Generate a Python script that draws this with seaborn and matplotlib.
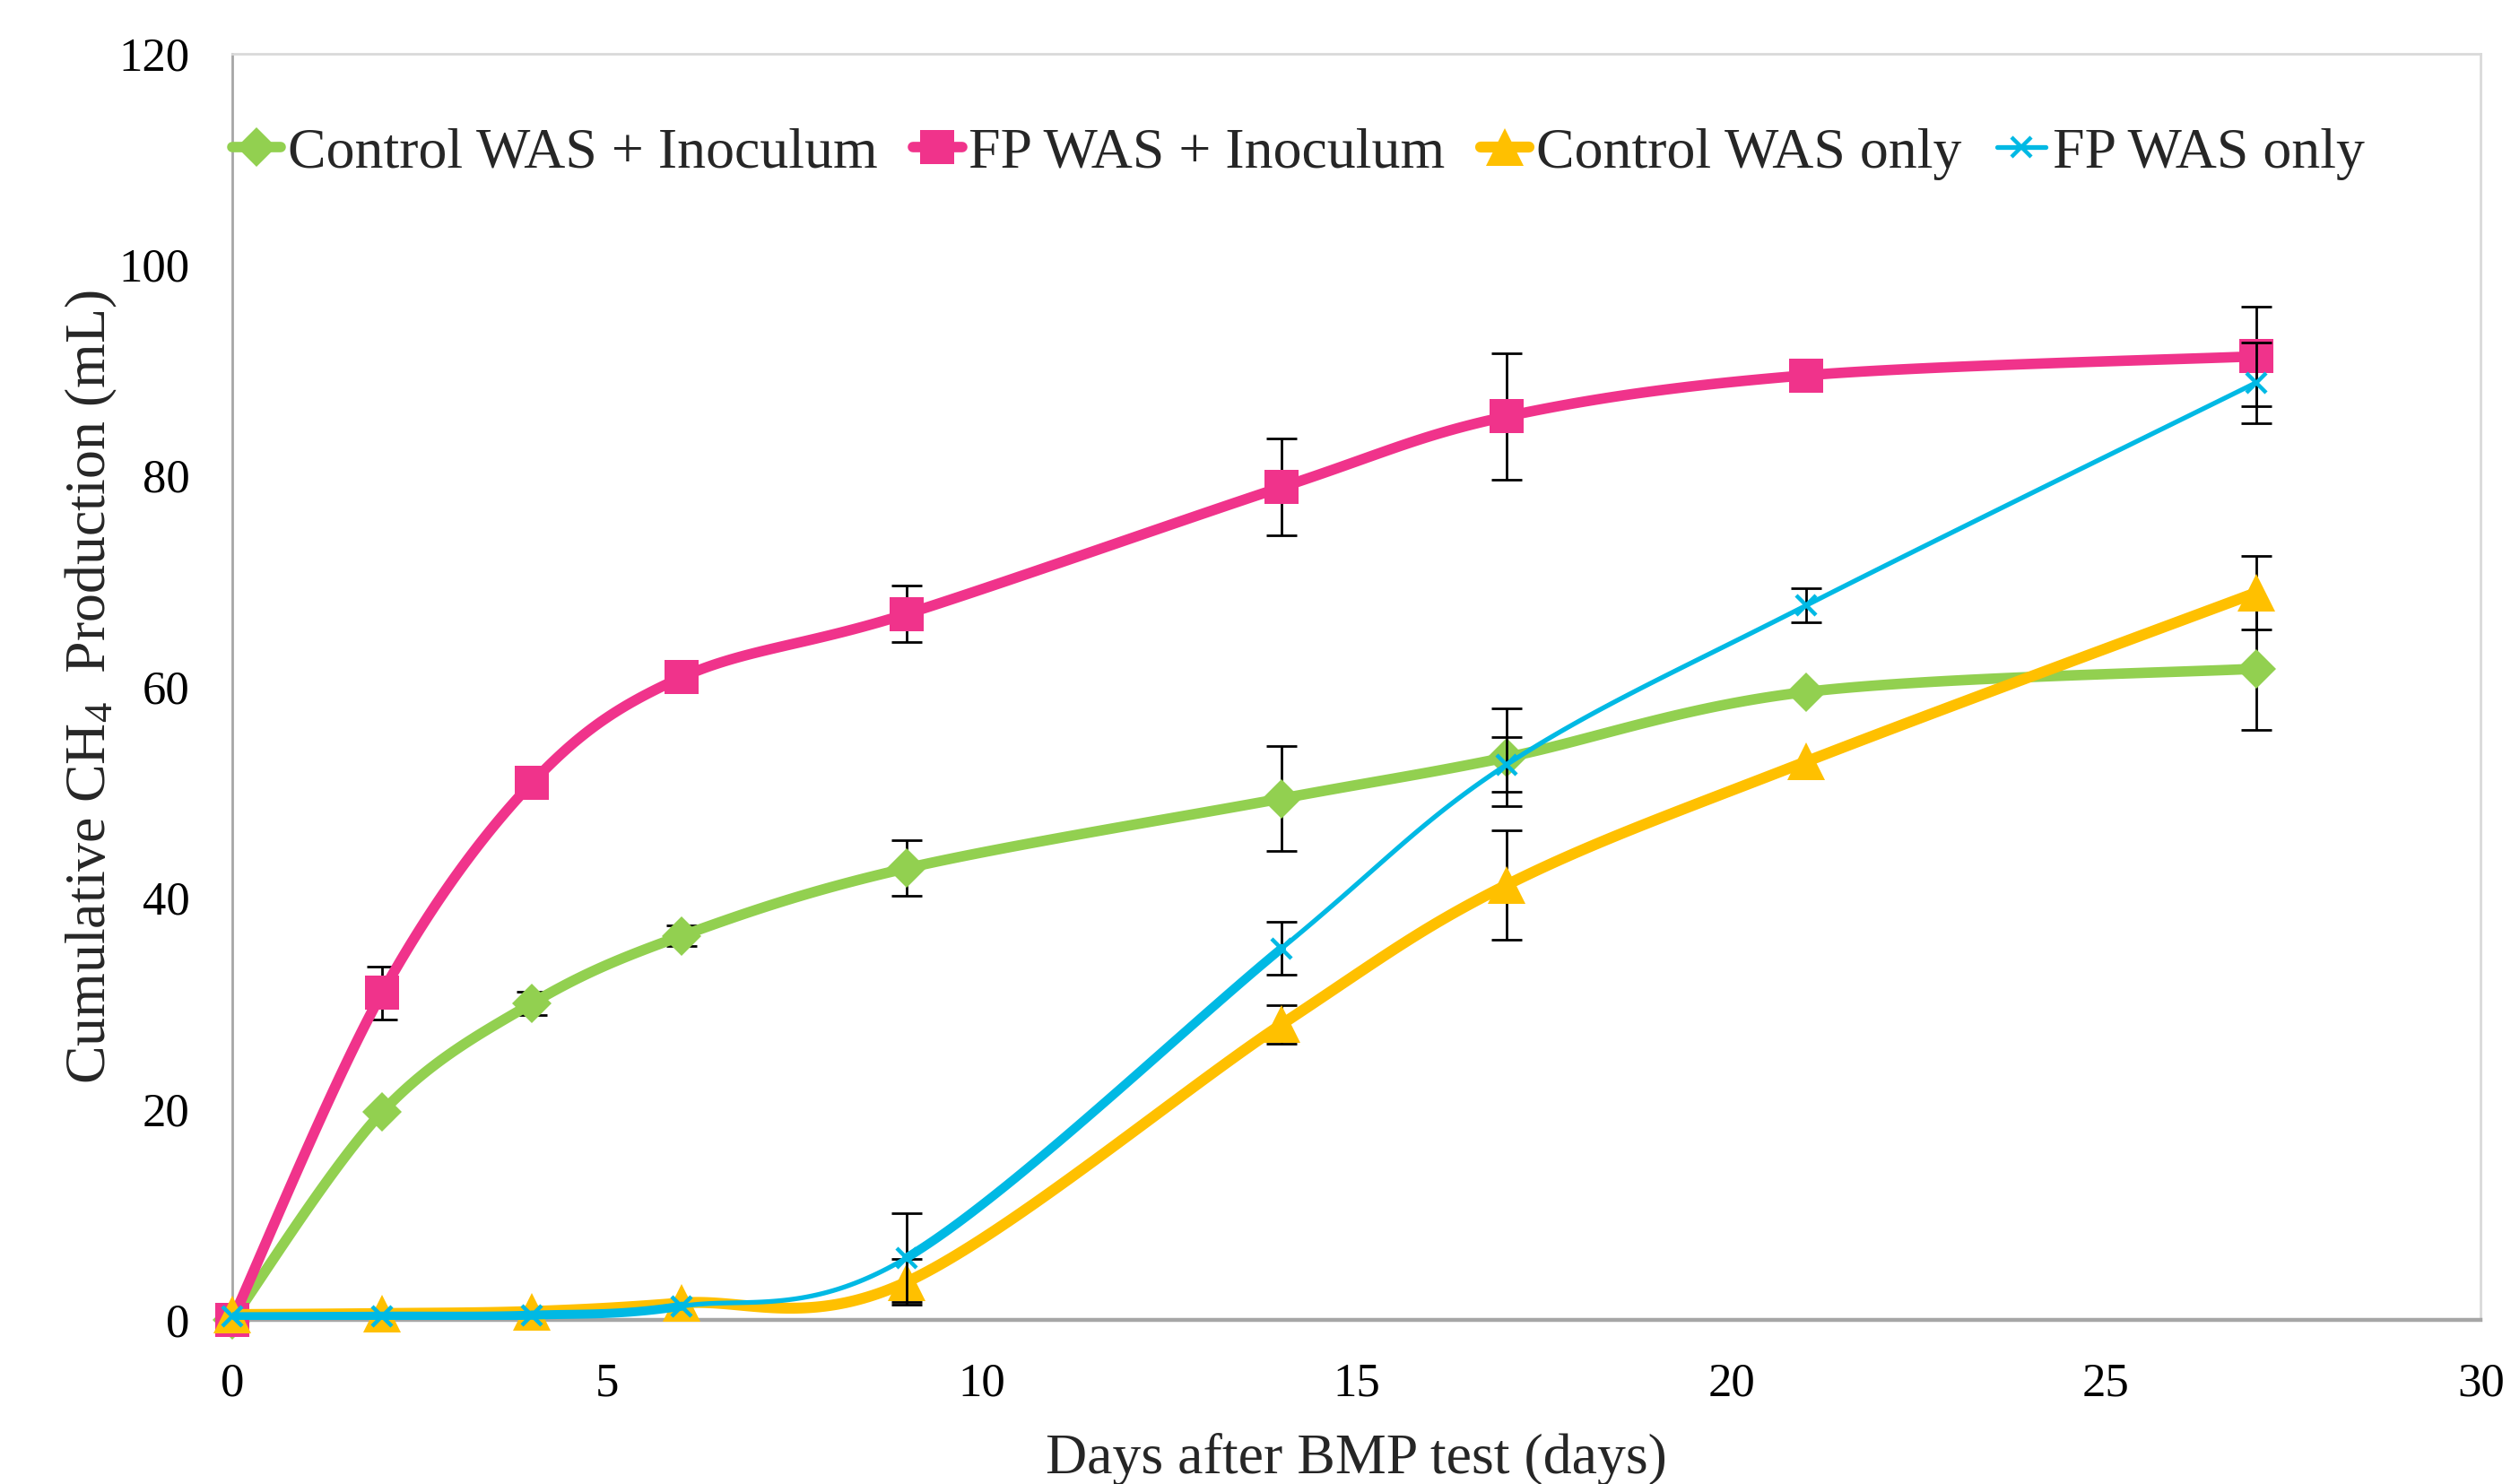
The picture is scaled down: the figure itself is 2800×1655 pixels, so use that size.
import numpy as np
import matplotlib
matplotlib.use("Agg")
import matplotlib.pyplot as plt
import seaborn as sns
from matplotlib.lines import Line2D

# ---------------- data ----------------
days = [0, 2, 4, 6, 9, 14, 17, 21, 27]

ctrl_inoc = [0.0, 19.7, 30.0, 36.4, 42.8, 49.4, 53.3, 59.5, 61.7]
ctrl_inoc_err = [0, 0, 1.1, 1.0, 2.65, 5.0, 4.6, 0, 5.8]

fp_inoc = [0.0, 31.0, 50.9, 60.9, 66.9, 78.9, 85.6, 89.5, 91.3]
fp_inoc_err = [0, 2.5, 0, 0, 2.7, 4.6, 6.0, 0, 4.7]

ctrl_only = [0.5, 0.6, 0.8, 1.6, 3.6, 28.0, 41.2, 52.9, 68.9]
ctrl_only_err = [0, 0, 0, 0, 2.2, 1.8, 5.2, 0, 3.5]

fp_only = [0.3, 0.35, 0.45, 1.3, 5.9, 35.2, 52.6, 67.7, 88.8]
fp_only_err = [0, 0, 0, 0, 4.2, 2.5, 2.6, 1.6, 3.8]

labels = ["Control WAS + Inoculum", "FP WAS + Inoculum", "Control WAS only", "FP WAS only"]
x_ticks = [0, 5, 10, 15, 20, 25, 30]
y_ticks = [0, 20, 40, 60, 80, 100, 120]

# ---------------- style ----------------
sns.set_theme(style="white")
plt.rcParams["font.family"] = ["Liberation Serif", "DejaVu Serif"]
plt.rcParams["mathtext.fontset"] = "custom"
plt.rcParams["mathtext.rm"] = "Liberation Serif"
plt.rcParams["mathtext.it"] = "Liberation Serif:italic"

GREEN = "#92D050"
PINK = "#F0338B"
YELLOW = "#FFC000"
BLUE = "#00B9E4"


def excel_smooth_segments(x, y, n=60):
    """Excel-like Catmull-Rom Bezier smoothing; returns list of (xs, ys) per segment."""
    pts = np.column_stack([np.asarray(x, float), np.asarray(y, float)])
    segs = []
    t = np.linspace(0, 1, n)[:, None]
    for i in range(len(pts) - 1):
        p0 = pts[i - 1] if i > 0 else pts[i]
        p1 = pts[i]
        p2 = pts[i + 1]
        p3 = pts[i + 2] if i + 2 < len(pts) else pts[i + 1]
        c1 = p1 + (p2 - p0) / 6.0
        c2 = p2 - (p3 - p1) / 6.0
        b = ((1 - t) ** 3) * p1 + 3 * ((1 - t) ** 2) * t * c1 + 3 * (1 - t) * t ** 2 * c2 + t ** 3 * p2
        segs.append((b[:, 0], b[:, 1]))
    return segs


fig = plt.figure(figsize=(14, 8.275), dpi=200)
ax = fig.add_axes([0.0925, 0.1106, 0.8955, 0.8534])

series = [
    (ctrl_inoc, ctrl_inoc_err, GREEN, "D", 11, [4.2] * 8),
    (fp_inoc, fp_inoc_err, PINK, "s", 14, [4.2] * 8),
    (ctrl_only, ctrl_only_err, YELLOW, "^", 15, [4.4] * 8),
    (fp_only, fp_only_err, BLUE, "x", 8, [3.6, 3.6, 3.6, 1.9, 3.6, 1.9, 1.9, 1.9]),
]

z = 2
for vals, err, col, mk, ms, widths in series:
    xs = np.array(days, float)
    ys = np.array(vals, float)
    e = np.array(err, float)
    m = e > 0
    ax.errorbar(xs[m], ys[m], yerr=e[m], fmt="none", ecolor="black",
                elinewidth=1.0, capsize=6, capthick=1.0, zorder=z)
    for (sx, sy), lw in zip(excel_smooth_segments(xs, ys), widths):
        sns.lineplot(x=sx, y=sy, sort=False, estimator=None, color=col,
                     linewidth=lw, ax=ax, zorder=z + 0.1, legend=False)
    if mk == "x":
        ax.plot(xs, ys, linestyle="none", marker=mk, markersize=ms, color=col,
                markeredgewidth=1.6, zorder=z + 0.2, clip_on=False)
    else:
        ax.plot(xs, ys, linestyle="none", marker=mk, markersize=ms, color=col,
                markeredgewidth=0, zorder=z + 0.2, clip_on=False)
    z += 1

ax.set_xlim(0, 30)
ax.set_ylim(0, 120)
ax.set_xticks(x_ticks)
ax.set_yticks(y_ticks)
ax.tick_params(axis="both", length=0, labelsize=19, colors="black")
ax.tick_params(axis="x", pad=17)
ax.tick_params(axis="y", pad=17)

ax.set_xlabel("Days after BMP test (days)", fontsize=23, labelpad=11)
ax.set_ylabel("Cumulative CH$_4$  Production (mL)", fontsize=23, labelpad=0)

for side in ["left", "bottom"]:
    ax.spines[side].set_color("#A6A6A6")
    ax.spines[side].set_linewidth(1.0)
ax.spines["bottom"].set_linewidth(1.6)
for side in ["top", "right"]:
    ax.spines[side].set_color("#D9D9D9")
    ax.spines[side].set_linewidth(1.0)
ax.grid(False)

handles = [
    Line2D([], [], color=GREEN, lw=4.2, marker="D", markersize=11, markeredgewidth=0),
    Line2D([], [], color=PINK, lw=4.2, marker="s", markersize=14, markeredgewidth=0),
    Line2D([], [], color=YELLOW, lw=4.4, marker="^", markersize=15, markeredgewidth=0),
    Line2D([], [], color=BLUE, lw=1.9, marker="x", markersize=8, markeredgewidth=1.6),
]
ax.legend(handles, labels, loc="center left", bbox_to_anchor=(0.0, 0.921), ncol=4,
          frameon=False, fontsize=23, handlelength=0.85, handletextpad=0.12,
          columnspacing=0.62, borderaxespad=0, borderpad=0)

fig.savefig("out.png", dpi=200)
